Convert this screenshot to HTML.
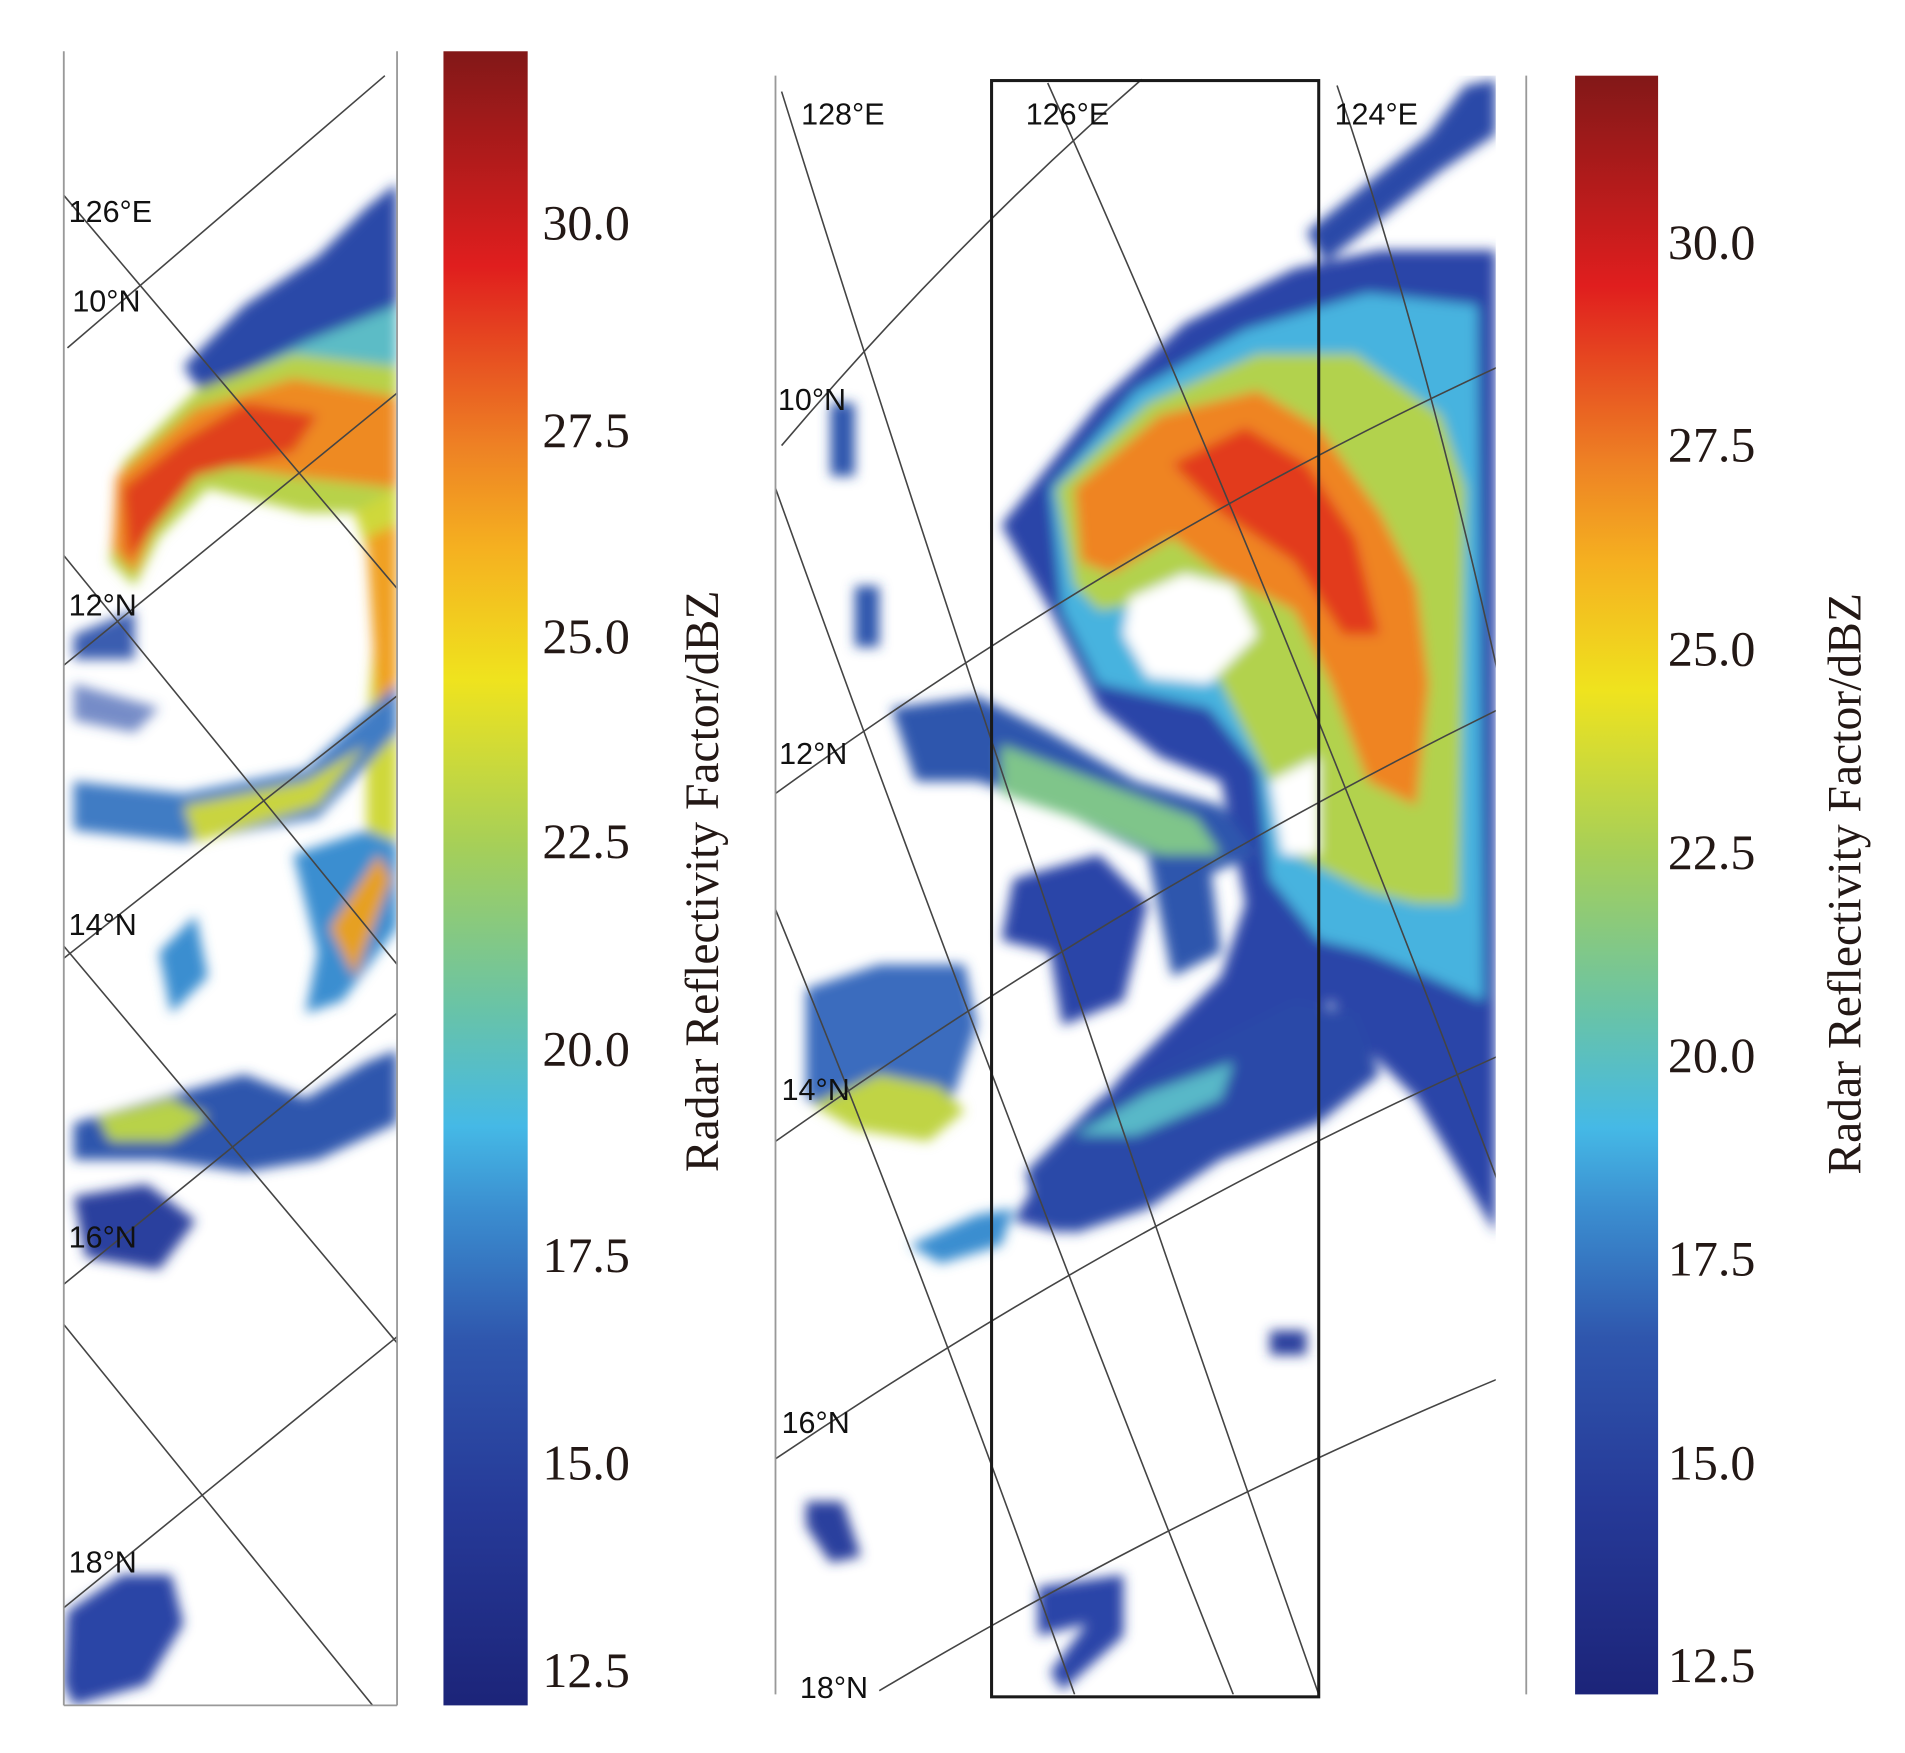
<!DOCTYPE html>
<html><head><meta charset="utf-8"><style>
html,body{margin:0;padding:0;background:#fff;}
svg{display:block;}
.sf{font-family:"Liberation Serif",serif;fill:#231815;}
.lab{font-family:"Liberation Sans",sans-serif;font-size:25px;fill:#111;}
</style></head><body>
<svg width="1905" height="1753" viewBox="0 0 1560 1436" xmlns="http://www.w3.org/2000/svg">
<defs>
<linearGradient id="cb" x1="0" y1="1" x2="0" y2="0">
<stop offset="0" stop-color="#1c2479"/>
<stop offset="0.12" stop-color="#263a98"/>
<stop offset="0.22" stop-color="#2f56ad"/>
<stop offset="0.30" stop-color="#3b8ed0"/>
<stop offset="0.35" stop-color="#45b9e6"/>
<stop offset="0.42" stop-color="#68c3a8"/>
<stop offset="0.52" stop-color="#a6cf58"/>
<stop offset="0.62" stop-color="#efe31e"/>
<stop offset="0.70" stop-color="#f5b020"/>
<stop offset="0.76" stop-color="#ee8224"/>
<stop offset="0.87" stop-color="#e01e1e"/>
<stop offset="1" stop-color="#821818"/>
</linearGradient>
<filter id="b" x="-20%" y="-20%" width="140%" height="140%"><feGaussianBlur stdDeviation="5"/></filter>
<clipPath id="cl"><rect x="52" y="42" width="273" height="1355"/></clipPath>
<clipPath id="cr"><rect x="635" y="62" width="590" height="1326"/></clipPath>
</defs>
<rect width="1560" height="1436" fill="#fff"/>

<!-- LEFT PANEL DATA -->
<g clip-path="url(#cl)">
<g filter="url(#b)">
<path d="M150,300 L200,250 L260,210 L300,170 L325,150 L325,280 L250,300 L170,330Z" fill="#2c49a8"/>
<path d="M170,320 L250,280 L325,250 L325,320 L260,330Z" fill="#5bbcc6"/>
<path d="M100,380 L160,320 L240,290 L325,300 L325,420 L250,420 L170,400 L130,440 L110,480 L90,460Z" fill="#b8d24a"/>
<path d="M95,390 L160,335 L240,310 L325,325 L325,400 L240,390 L170,380 L130,420 L110,470 L92,450Z" fill="#ee8a24"/>
<path d="M100,400 L150,360 L200,330 L260,340 L240,370 L160,390 L120,440 L105,460Z" fill="#e0401e"/>
<path d="M290,420 L325,400 L325,760 L300,760 L300,600 L310,480Z" fill="#cfd83a"/>
<path d="M300,440 L325,430 L325,600 L310,600Z" fill="#f0a022"/>
<path d="M60,640 L150,650 L250,630 L325,560 L325,600 L260,670 L150,690 L60,680Z" fill="#3f7cc4"/>
<path d="M150,660 L250,640 L300,610 L260,660 L160,690Z" fill="#c9d440"/>
<path d="M240,700 L300,680 L325,690 L325,760 L280,820 L250,830 L260,780Z" fill="#3b8ed0"/>
<path d="M270,760 L310,700 L320,720 L290,800Z" fill="#e6a020"/>
<path d="M130,780 L160,750 L170,800 L140,830Z" fill="#3b8ed0"/>
<path d="M60,920 L130,900 L200,880 L250,900 L300,870 L325,860 L325,920 L260,950 L200,960 L130,950 L60,950Z" fill="#2f56ad"/>
<path d="M80,915 L140,900 L170,915 L140,935 L90,935Z" fill="#b8d24a"/>
<path d="M60,980 L120,970 L160,1000 L130,1040 L70,1030Z" fill="#2a3f9e"/>
<path d="M55,1320 L100,1290 L140,1290 L150,1330 L120,1380 L60,1397 L52,1380Z" fill="#2b45a6"/>
<path d="M60,520 L110,500 L110,540 L60,540Z" fill="#3b5db0"/>
<path d="M60,560 L130,580 L110,600 L60,590Z" fill="#3b5db0" opacity="0.7"/>
</g>
</g>
<g stroke="#444" stroke-width="1.3" fill="none" clip-path="url(#cl)">
<line x1="55" y1="285" x2="315" y2="62"/>
<line x1="52" y1="545" x2="325" y2="322"/>
<line x1="52" y1="785" x2="325" y2="570"/>
<line x1="52" y1="1052" x2="325" y2="830"/>
<line x1="52" y1="1317" x2="325" y2="1095"/>
<line x1="52" y1="160" x2="325" y2="482"/>
<line x1="52" y1="455" x2="325" y2="790"/>
<line x1="52" y1="775" x2="325" y2="1100"/>
<line x1="52" y1="1085" x2="305" y2="1397"/>
</g>
<g stroke="#999" stroke-width="1.5"><line x1="52" y1="42" x2="52" y2="1397"/><line x1="325" y1="42" x2="325" y2="1397"/><line x1="52" y1="1397" x2="325" y2="1397"/></g>
<g class="lab">
<text x="56" y="182">126°E</text><text x="59" y="255">10°N</text><text x="56" y="504">12°N</text>
<text x="56" y="766">14°N</text><text x="56" y="1022">16°N</text><text x="56" y="1288">18°N</text>
</g>

<rect x="363" y="42" width="69" height="1355" fill="url(#cb)"/>
<g class="sf" font-size="41">
<text x="444" y="196">30.0</text><text x="444" y="366">27.5</text><text x="444" y="535">25.0</text><text x="444" y="703">22.5</text>
<text x="444" y="873">20.0</text><text x="444" y="1042">17.5</text><text x="444" y="1212">15.0</text><text x="444" y="1382">12.5</text>
</g>
<text class="sf" font-size="39" transform="translate(588,722) rotate(-90)" text-anchor="middle">Radar Reflectivity Factor/dBZ</text>

<!-- RIGHT PANEL DATA -->
<g clip-path="url(#cr)">
<g filter="url(#b)">
<path d="M1070,190 L1120,150 L1170,110 L1200,70 L1225,65 L1225,110 L1180,140 L1130,180 L1085,215Z" fill="#2c49a8"/>
<path d="M820,430 L900,330 L970,265 L1060,220 L1130,205 L1225,205 L1225,1010 L1160,900 L1120,860 L1090,820 L1050,860 L980,900 L920,960 L870,1010 L830,1000 L860,950 L920,880 L1000,800 L1020,740 L1000,640 L950,620 L900,580 L860,500Z" fill="#2a45a8"/>
<path d="M860,400 L930,320 L1020,270 L1120,240 L1210,250 L1215,820 L1170,800 L1120,780 L1080,770 L1040,720 L1030,630 L990,580 L900,560 L870,500Z" fill="#47b3df"/>
<path d="M865,400 L940,330 L1030,290 L1110,290 L1180,340 L1200,400 L1195,740 L1160,740 L1120,730 L1060,700 L1040,640 L1000,560 L960,490 L900,500 L880,480Z" fill="#b2d24e"/>
<path d="M880,400 L950,340 L1030,320 L1080,350 L1130,420 L1160,480 L1170,560 L1160,660 L1120,640 L1090,560 L1060,500 L1000,470 L960,440 L910,470 L885,460Z" fill="#ef8424"/>
<path d="M960,380 L1020,350 L1070,380 L1110,440 L1130,520 L1100,520 L1060,460 L1000,420Z" fill="#e23a1e"/>
<path d="M925,490 L970,470 L1010,480 L1030,520 L990,560 L940,555 L920,520Z" fill="#fff"/>
<path d="M1040,640 L1080,620 L1080,700 L1050,700Z" fill="#fff"/>
<path d="M730,580 L800,570 L860,600 L930,640 L1000,660 L1030,700 L980,720 L920,690 L860,660 L800,640 L750,640Z" fill="#2f56ad"/>
<path d="M820,610 L900,640 L980,670 L1000,700 L950,700 L880,670 L820,650Z" fill="#7fc58a"/>
<path d="M830,720 L900,700 L940,740 L920,820 L870,840 L860,780 L820,770Z" fill="#2a45a8"/>
<path d="M940,700 L990,700 L1000,780 L960,800Z" fill="#2f56ad"/>
<path d="M840,960 L900,900 L980,860 L1060,820 L1110,830 L1130,880 L1080,920 L1000,950 L940,990 L880,1010 L850,1000Z" fill="#2c49a8"/>
<path d="M880,930 L940,895 L1010,870 L1000,900 L930,930Z" fill="#58b8c8"/>
<path d="M660,810 L720,790 L790,790 L800,840 L780,900 L760,930 L700,920 L660,900Z" fill="#3a6cbe"/>
<path d="M665,905 L720,880 L770,890 L790,910 L760,935 L700,925Z" fill="#c0d444"/>
<path d="M745,1020 L800,995 L830,990 L820,1020 L770,1035Z" fill="#3b8ed0"/>
<path d="M660,1230 L690,1230 L705,1275 L680,1280 L660,1250Z" fill="#2a3f9e"/>
<path d="M700,480 L720,480 L720,530 L700,530Z" fill="#2f56ad"/>
<path d="M680,330 L700,330 L700,390 L680,390Z" fill="#2f56ad"/>
<path d="M850,1300 L920,1290 L920,1340 L870,1385 L860,1370 L890,1330 L850,1340Z" fill="#2a45a8"/>
<path d="M1040,1090 L1070,1090 L1070,1110 L1040,1110Z" fill="#2a3f9e"/>
</g>
</g>
<g stroke="#444" stroke-width="1.3" fill="none" clip-path="url(#cr)">
<path d="M640,75 Q820,650 1080,1388"/>
<path d="M858,68 Q1060,520 1250,1030"/>
<path d="M1095,70 Q1180,320 1250,660"/>
<path d="M635,400 Q800,860 1010,1388"/>
<path d="M635,745 Q760,1050 880,1388"/>
<path d="M640,365 Q780,200 935,65"/>
<path d="M635,650 Q940,430 1250,290"/>
<path d="M635,935 Q940,720 1250,570"/>
<path d="M635,1195 Q940,990 1250,855"/>
<path d="M720,1385 Q980,1230 1250,1120"/>
</g>
<g stroke="#999" stroke-width="1.5"><line x1="635" y1="62" x2="635" y2="1388"/><line x1="1250" y1="62" x2="1250" y2="1388"/></g>
<rect x="812" y="66" width="268" height="1324" fill="none" stroke="#1a1a1a" stroke-width="2.5"/>
<g class="lab">
<text x="656" y="102">128°E</text><text x="840" y="102">126°E</text><text x="1093" y="102">124°E</text>
<text x="637" y="336">10°N</text><text x="638" y="626">12°N</text><text x="640" y="901">14°N</text>
<text x="640" y="1174">16°N</text><text x="655" y="1391">18°N</text>
</g>

<rect x="1290" y="62" width="68" height="1326" fill="url(#cb)"/>
<g class="sf" font-size="41">
<text x="1366" y="212">30.0</text><text x="1366" y="378">27.5</text><text x="1366" y="545">25.0</text><text x="1366" y="712">22.5</text>
<text x="1366" y="878">20.0</text><text x="1366" y="1045">17.5</text><text x="1366" y="1212">15.0</text><text x="1366" y="1378">12.5</text>
</g>
<text class="sf" font-size="39" transform="translate(1524,724) rotate(-90)" text-anchor="middle">Radar Reflectivity Factor/dBZ</text>
</svg>
</body></html>
